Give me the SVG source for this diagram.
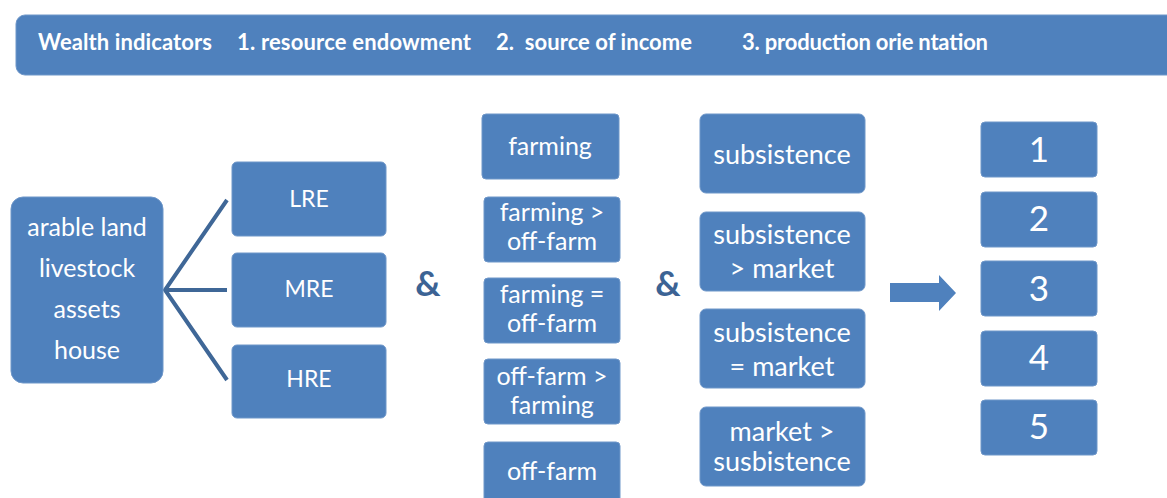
<svg xmlns="http://www.w3.org/2000/svg" width="1167" height="498" viewBox="0 0 1167 498">
<style>
.box{fill:#4f81bd;stroke:#6f97c9;stroke-width:1}
.t{fill:#ffffff;font-family:Lato,"Open Sans","Noto Sans",sans-serif;text-anchor:middle}
.h{fill:#ffffff;font-family:Lato,"Open Sans","Noto Sans",sans-serif;font-weight:bold;font-size:22px;white-space:pre}
.amp{fill:#3c6394;font-family:Lato,"Open Sans",sans-serif;font-weight:bold;font-size:35px;text-anchor:middle}
.c{stroke:#3f6797;stroke-width:4;fill:none}
</style>
<g id="header">
<rect class="box" x="16" y="15" width="1170" height="60" rx="9"/>
<text class="h" x="38" y="50" textLength="174" lengthAdjust="spacing">Wealth indicators</text>
<text class="h" x="237" y="50" textLength="234" lengthAdjust="spacing">1. resource endowment</text>
<text class="h" x="496" y="50" xml:space="preserve" textLength="196" lengthAdjust="spacing">2.  source of income</text>
<text class="h" x="742" y="50" textLength="246" lengthAdjust="spacing">3. production orie ntation</text>
</g>
<g id="connectors">
<path class="c" d="M227,200 L165,290 L227,380 M165,290 L227,290"/>
<polygon fill="#4f81bd" points="890,283 939,283 939,275 956,293 939,311 939,302 890,302"/>
</g>
<g id="resources">
<rect class="box" x="11" y="197" width="152" height="186" rx="12"/>
<text class="t" font-size="25" x="87" y="236">arable land</text>
<text class="t" font-size="25" x="87" y="277">livestock</text>
<text class="t" font-size="25" x="87" y="318">assets</text>
<text class="t" font-size="25" x="87" y="359">house</text>
</g>
<g id="lre"><rect class="box" x="232" y="162" width="154" height="74" rx="5"/><text class="t" font-size="23" x="309" y="207">LRE</text></g>
<g id="mre"><rect class="box" x="232" y="253" width="154" height="74" rx="5"/><text class="t" font-size="23" x="309" y="297">MRE</text></g>
<g id="hre"><rect class="box" x="232" y="345" width="154" height="73" rx="5"/><text class="t" font-size="23" x="309" y="387">HRE</text></g>
<g id="amp1"><text class="amp" x="428" y="296">&amp;</text></g>
<g id="amp2"><text class="amp" x="668" y="296">&amp;</text></g>
<g id="inc1"><rect class="box" x="482" y="114" width="137" height="65" rx="4"/><text class="t" font-size="25" x="550" y="155">farming</text></g>
<g id="inc2"><rect class="box" x="484" y="197" width="136" height="65" rx="4"/><text class="t" font-size="25" x="552" y="221">farming &gt;</text><text class="t" font-size="25" x="552" y="250">off-farm</text></g>
<g id="inc3"><rect class="box" x="484" y="278" width="136" height="65" rx="4"/><text class="t" font-size="25" x="552" y="303">farming =</text><text class="t" font-size="25" x="552" y="332">off-farm</text></g>
<g id="inc4"><rect class="box" x="484" y="359" width="136" height="65" rx="4"/><text class="t" font-size="25" x="552" y="385">off-farm &gt;</text><text class="t" font-size="25" x="552" y="414">farming</text></g>
<g id="inc5"><rect class="box" x="484" y="442" width="136" height="70" rx="4"/><text class="t" font-size="25" x="552" y="480">off-farm</text></g>
<g id="pro1"><rect class="box" x="700" y="114" width="165" height="79" rx="6"/><text class="t" font-size="27" x="782" y="164">subsistence</text></g>
<g id="pro2"><rect class="box" x="700" y="212" width="165" height="79" rx="6"/><text class="t" font-size="27" x="782" y="244">subsistence</text><text class="t" font-size="27" x="782" y="278">&gt; market</text></g>
<g id="pro3"><rect class="box" x="700" y="309" width="165" height="79" rx="6"/><text class="t" font-size="27" x="782" y="342">subsistence</text><text class="t" font-size="27" x="782" y="376">= market</text></g>
<g id="pro4"><rect class="box" x="700" y="407" width="165" height="79" rx="6"/><text class="t" font-size="27" x="782" y="441">market &gt;</text><text class="t" font-size="27" x="782" y="471">susbistence</text></g>
<g id="n1"><rect class="box" x="981" y="122" width="116" height="55" rx="4"/><text class="t" font-size="35" x="1039" y="162">1</text></g>
<g id="n2"><rect class="box" x="981" y="192" width="116" height="55" rx="4"/><text class="t" font-size="35" x="1039" y="231">2</text></g>
<g id="n3"><rect class="box" x="981" y="261" width="116" height="55" rx="4"/><text class="t" font-size="35" x="1039" y="301">3</text></g>
<g id="n4"><rect class="box" x="981" y="331" width="116" height="55" rx="4"/><text class="t" font-size="35" x="1039" y="370">4</text></g>
<g id="n5"><rect class="box" x="981" y="400" width="116" height="55" rx="4"/><text class="t" font-size="35" x="1039" y="439">5</text></g>
</svg>
